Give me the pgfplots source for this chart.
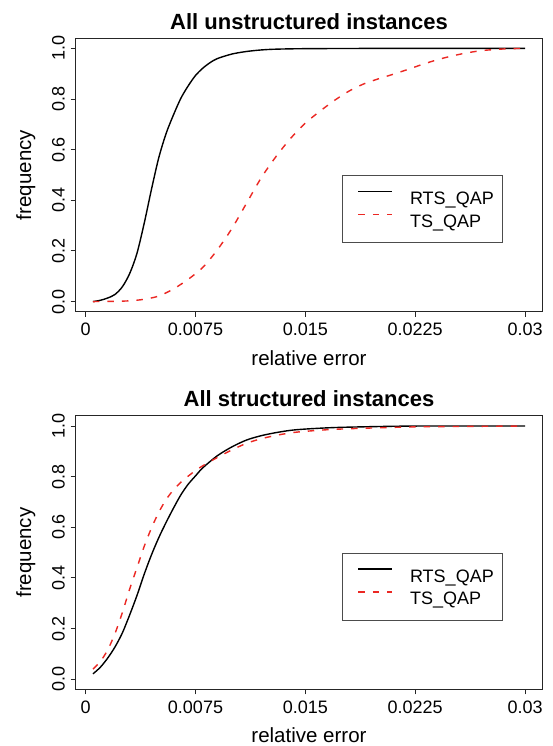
\documentclass[border=0pt]{standalone}
\usepackage{pgfplots}
\pgfplotsset{compat=1.18}
\usepackage{fontspec}
\setmainfont{Liberation Sans}

\definecolor{rred}{RGB}{235,40,35}

\pgfplotsset{
  rplot/.style={
    scale only axis,
    width=466.6pt, height=273.4pt,
    anchor=south west,
    xmin=-0.00068, xmax=0.03118,
    ymin=-0.04, ymax=1.04,
    scaled x ticks=false,
    axis line style={line width=0.9pt, black!85},
    tick style={line width=0.9pt, black!85},
    tick align=outside,
    major tick length=5pt,
    xtick pos=left, ytick pos=left,
    xtick={0,0.0075,0.015,0.0225,0.03},
    xticklabels={0,0.0075,0.015,0.0225,0.03},
    ytick={0,0.2,0.4,0.6,0.8,1},
    yticklabels={0.0,0.2,0.4,0.6,0.8,1.0},
    ticklabel style={font=\fontsize{18}{21.6}\selectfont, inner sep=0pt},
    xticklabel style={anchor=base, yshift=-19pt},
    yticklabel style={xshift=-6pt, rotate=90, anchor=base},
    xlabel={relative error},
    ylabel={frequency},
    label style={font=\fontsize{20.5}{24}\selectfont, inner sep=0pt},
    xlabel style={at={(axis description cs:0.5,-0.195)}, anchor=base},
    ylabel style={at={(axis description cs:-0.0958,0.5)}, rotate=0, anchor=base},
    every axis title shift=0pt,
    title style={at={(axis description cs:0.5,1.0329)}, anchor=base, inner sep=0pt,
      font=\bfseries\fontsize{22}{26}\selectfont},
    legend style={at={(0.57,0.5)}, anchor=north west, draw=black!70, line width=0.8pt,
      fill=white, font=\fontsize{18}{21.6}\selectfont,
      inner xsep=8.3pt, inner ysep=15.5pt, row sep=9pt,
      nodes={inner sep=0pt, text height=13pt, text depth=0pt},
      /tikz/every odd column/.append style={column sep=17.3pt}},
    legend cell align=left,
    legend image code/.code={
      \path[draw=none, fill=none] (-8pt,6pt) rectangle (0pt,7pt);
      \draw[#1, sharp plot] (0pt,6.5pt) -- (33.7pt,6.5pt);
    },
  },
  rts/.style={black, line width=1.4pt, smooth, tension=0.5},
  ts/.style={rred, line width=1.4pt, dash pattern=on 6.5pt off 8pt, smooth, tension=0.5},
}

\begin{document}
\begin{tikzpicture}
\useasboundingbox (0,0) rectangle (552pt,746pt);

\begin{axis}[rplot, at={(75.7pt,434.3pt)}, title={All unstructured instances}]
\addplot[rts] coordinates {
  (0.0005,0.000) (0.0010,0.005) (0.0015,0.014) (0.0020,0.028) (0.0025,0.058)
  (0.0030,0.110) (0.0035,0.190) (0.0040,0.310) (0.0045,0.445) (0.0050,0.570)
  (0.0055,0.665) (0.0060,0.738) (0.0065,0.803) (0.0070,0.852) (0.0075,0.893)
  (0.0080,0.922) (0.0085,0.944) (0.0090,0.960) (0.0100,0.978) (0.0110,0.988)
  (0.0120,0.994) (0.0130,0.997) (0.0150,0.999) (0.0200,1.000) (0.0300,1.000)
};
\addlegendentry{RTS\_QAP}
\addplot[ts] coordinates {
  (0.0005,0.000) (0.0020,0.001) (0.0030,0.003) (0.0040,0.009) (0.0050,0.022)
  (0.0060,0.050) (0.0070,0.088) (0.0080,0.135) (0.0090,0.205) (0.0100,0.290)
  (0.0110,0.390) (0.0120,0.490) (0.0130,0.573) (0.0140,0.645) (0.0150,0.705)
  (0.0160,0.752) (0.0170,0.795) (0.0180,0.832) (0.0190,0.860) (0.0200,0.880)
  (0.0210,0.898) (0.0220,0.917) (0.0230,0.937) (0.0240,0.955) (0.0250,0.970)
  (0.0260,0.982) (0.0270,0.991) (0.0280,0.996) (0.0290,0.999) (0.0300,1.000)
};
\addlegendentry{TS\_QAP}
\end{axis}

\begin{axis}[rplot, at={(75.7pt,56.7pt)}, title={All structured instances}]
\addplot[rts] coordinates {
  (0.0005,0.021) (0.0010,0.047) (0.0015,0.083) (0.0020,0.127) (0.0025,0.182)
  (0.0030,0.253) (0.0035,0.330) (0.0040,0.415) (0.0045,0.492) (0.0050,0.560)
  (0.0055,0.620) (0.0060,0.676) (0.0065,0.728) (0.0070,0.770) (0.0075,0.803)
  (0.0080,0.835) (0.0090,0.883) (0.0100,0.918) (0.0110,0.945) (0.0120,0.962)
  (0.0130,0.974) (0.0140,0.983) (0.0150,0.988) (0.0170,0.994) (0.0200,0.998)
  (0.0230,1.000) (0.0300,1.000)
};
\addlegendentry{RTS\_QAP}
\addplot[ts] coordinates {
  (0.0005,0.040) (0.0010,0.070) (0.0015,0.115) (0.0020,0.180) (0.0025,0.262)
  (0.0030,0.355) (0.0035,0.440) (0.0040,0.525) (0.0045,0.598) (0.0050,0.660)
  (0.0055,0.710) (0.0060,0.748) (0.0065,0.778) (0.0070,0.802) (0.0075,0.824)
  (0.0080,0.843) (0.0090,0.876) (0.0100,0.906) (0.0110,0.932) (0.0120,0.950)
  (0.0130,0.963) (0.0140,0.973) (0.0150,0.979) (0.0170,0.987) (0.0200,0.993)
  (0.0230,0.997) (0.0300,1.000)
};
\addlegendentry{TS\_QAP}
\end{axis}
\end{tikzpicture}
\end{document}
